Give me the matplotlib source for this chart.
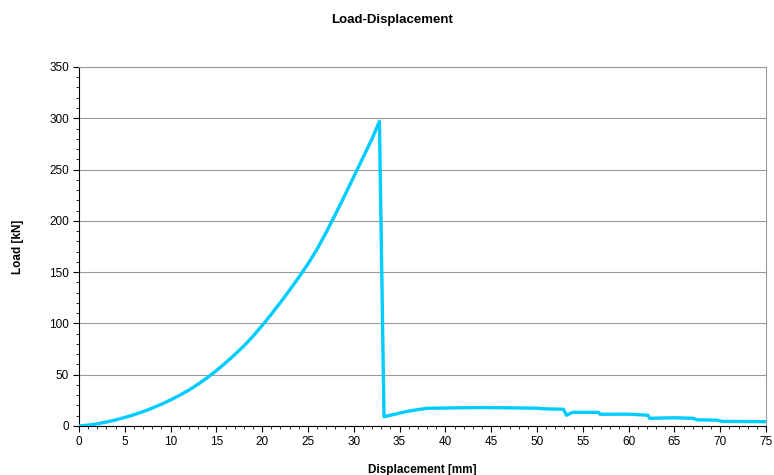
import matplotlib
matplotlib.use("Agg")
import matplotlib.pyplot as plt
from matplotlib.ticker import MultipleLocator

plt.rcParams['font.family'] = ['Liberation Sans', 'DejaVu Sans']

# curva carga-desplazamiento
desplazamiento = [0, 1, 2, 3, 4, 5, 6, 7, 8, 9, 10, 11, 12, 13, 14, 15, 16, 17,
                  18, 19, 20, 21, 22, 23, 24, 25, 26, 27, 28, 29, 30, 31, 32, 32.8,
                  33.3, 34, 35, 36, 37, 38, 40, 42, 44, 46, 48, 50, 51, 52.9,
                  53.2, 53.9, 56.7, 56.9, 60, 62.1, 62.3, 65, 67, 67.5, 69.6,
                  70.2, 75]
carga = [0, 0.8, 2.1, 3.8, 5.9, 8.3, 11, 14, 17.4, 21.2, 25.4, 30, 35, 40.7, 47,
         54, 61.5, 69.5, 78, 87.5, 98, 109, 120.5, 132.5, 145, 158, 172.5, 189,
         206.5, 224.5, 243, 261.5, 280, 297,
         9, 10.5, 12.5, 14.5, 16, 17.2, 17.5, 17.8, 18, 17.8, 17.6, 17.3, 16.7,
         16.3, 10.5, 13.3, 13.3, 11.4, 11.5, 10.5, 7.5, 8, 7.5, 6, 5.7, 4.5, 4.2]

fig = plt.figure(figsize=(7.74, 4.75), dpi=100)
ax = fig.add_axes([0.102, 0.1032, 0.8877, 0.7558])

ax.plot(desplazamiento, carga, color="#00CCFF", linewidth=2.4, zorder=3)

ax.set_xlim(0, 75)
ax.set_ylim(0, 350)
ax.xaxis.set_major_locator(MultipleLocator(5))
ax.xaxis.set_minor_locator(MultipleLocator(1))
ax.yaxis.set_major_locator(MultipleLocator(50))
ax.yaxis.set_minor_locator(MultipleLocator(10))
ax.tick_params(which="major", direction="out", length=4, width=0.8, labelsize=8.5, pad=3)
ax.tick_params(which="minor", direction="out", length=2.5, width=0.6)
ax.grid(axis="y", which="major", color="#9a9a9a", linewidth=0.8)

for lado in ["left", "bottom"]:
    ax.spines[lado].set_color("black")
    ax.spines[lado].set_linewidth(0.8)
for lado in ["top", "right"]:
    ax.spines[lado].set_color("#9a9a9a")
    ax.spines[lado].set_linewidth(0.8)

ax.set_xlabel("Displacement [mm]", fontsize=8.5, fontweight="bold", labelpad=12)
ax.set_ylabel("Load [kN]", fontsize=8.5, fontweight="bold", labelpad=18)
fig.suptitle("Load-Displacement", x=0.507, y=0.97, fontsize=9.5, fontweight="bold")

plt.savefig("out.png", dpi=100)
